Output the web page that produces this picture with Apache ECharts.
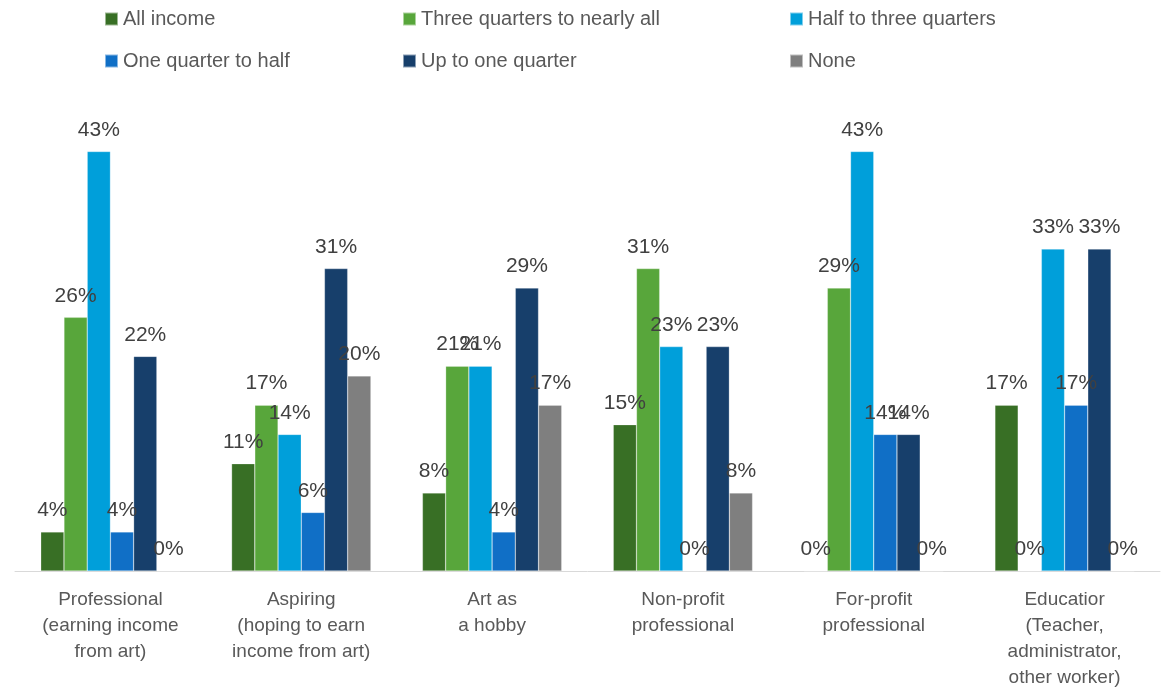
<!DOCTYPE html>
<html>
<head>
<meta charset="utf-8">
<script src="https://cdn.jsdelivr.net/npm/echarts@6/dist/echarts.min.js"></script>
<style>
  html, body { margin: 0; padding: 0; background: #fff; }
  #chart { width: 1165px; height: 688px; }
</style>
</head>
<body>
<div id="chart"></div>
<script>
// categories along the x axis
const categories = [
  'Professional\n(earning income\nfrom art)',
  'Aspiring\n(hoping to earn\nincome from art)',
  'Art as\na hobby',
  'Non-profit\nprofessional',
  'For-profit\nprofessional',
  'Educatior\n(Teacher,\nadministrator,\nother worker)'
]

// one array per income share (percent)
const allIncome = [4, 11, 8, 15, 0, 17]
const threeQuarters = [26, 17, 21, 31, 29, 0]
const halfToThree = [43, 14, 21, 23, 43, 33]
const quarterToHalf = [4, 6, 4, 0, 14, 17]
const upToQuarter = [22, 31, 29, 23, 14, 33]
const none = [0, 20, 17, 8, 0, 0]

const seriesNames = [
  'All income',
  'Three quarters to nearly all',
  'Half to three quarters',
  'One quarter to half',
  'Up to one quarter',
  'None'
]
const seriesData = [allIncome, threeQuarters, halfToThree, quarterToHalf, upToQuarter, none]
const colors = ['#386F25', '#58A63B', '#009FDA', '#106FC6', '#173F6B', '#7F7F7F']

const font = '"Liberation Sans", Arial, sans-serif'

const legendBase = {
  orient: 'vertical',
  top: 9,
  padding: 0,
  itemWidth: 13,
  itemHeight: 13,
  itemGap: 22,
  icon: 'rect',
  textStyle: { fontFamily: font, fontSize: 20, color: '#595959' },
  selectedMode: false
}

const chart = echarts.init(document.getElementById('chart'))

chart.setOption({
  animation: false,
  color: colors,
  textStyle: { fontFamily: font },
  legend: [
    Object.assign({}, legendBase, { left: 104, data: [seriesNames[0], seriesNames[3]] }),
    Object.assign({}, legendBase, { left: 402, data: [seriesNames[1], seriesNames[4]] }),
    Object.assign({}, legendBase, { left: 789, data: [seriesNames[2], seriesNames[5]] })
  ],
  grid: {
    left: 15,
    right: 5,
    top: 132,
    bottom: 117,
    containLabel: false,
    outerBoundsMode: 'none' // v6: don't shrink the grid to fit the 4-line label
  },
  xAxis: {
    type: 'category',
    data: categories,
    axisLine: { lineStyle: { color: '#D9D9D9', width: 1 } },
    axisTick: { show: false },
    axisLabel: {
      interval: 0,
      margin: 16,
      fontFamily: font,
      fontSize: 19,
      lineHeight: 26,
      color: '#595959'
    }
  },
  yAxis: {
    type: 'value',
    min: 0,
    max: 45,
    show: false,
    splitLine: { show: false }
  },
  series: seriesData.map((data, i) => ({
    name: seriesNames[i],
    type: 'bar',
    data: data,
    barGap: '0%',
    barCategoryGap: '27%',
    itemStyle: { borderColor: 'rgba(255,255,255,0.5)', borderWidth: 0.5 },
    label: {
      show: true,
      position: 'top',
      distance: 11,
      formatter: '{c}%',
      fontFamily: font,
      fontSize: 21,
      color: '#404040'
    }
  }))
})
</script>
</body>
</html>
